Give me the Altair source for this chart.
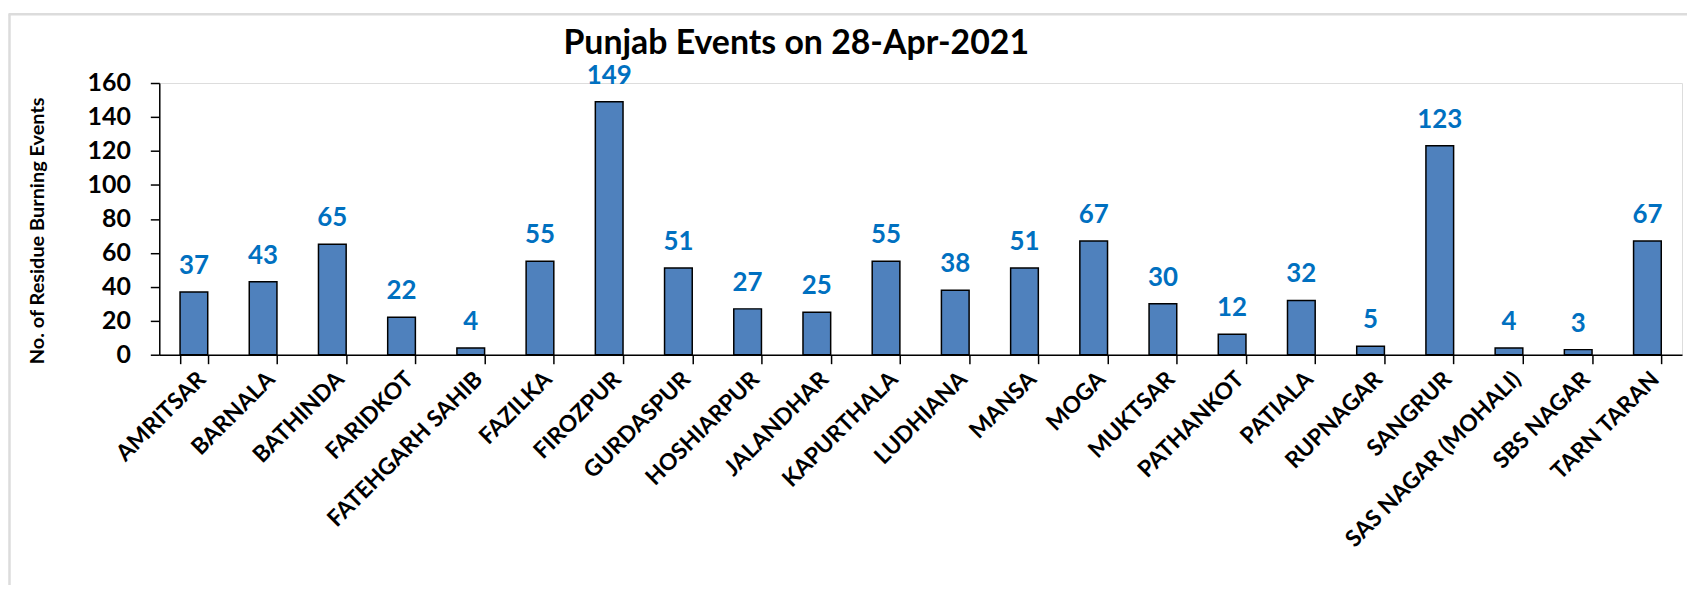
import altair as alt
import pandas as pd

districts = ["AMRITSAR", "BARNALA", "BATHINDA", "FARIDKOT", "FATEHGARH SAHIB", "FAZILKA",
             "FIROZPUR", "GURDASPUR", "HOSHIARPUR", "JALANDHAR", "KAPURTHALA", "LUDHIANA",
             "MANSA", "MOGA", "MUKTSAR", "PATHANKOT", "PATIALA", "RUPNAGAR", "SANGRUR",
             "SAS NAGAR (MOHALI)", "SBS NAGAR", "TARN TARAN"]
events = [37, 43, 65, 22, 4, 55, 149, 51, 27, 25, 55, 38, 51, 67, 30, 12, 32, 5, 123, 4, 3, 67]
y_ticks = [0, 20, 40, 60, 80, 100, 120, 140, 160]

df = pd.DataFrame({"district": districts, "events": events})

FONT = "Lato"

x_enc = alt.X("district:N", sort=districts,
              scale=alt.Scale(paddingInner=0.6, paddingOuter=0.3),
              axis=alt.Axis(title=None, labelAngle=-45, labelAlign="right", labelBaseline="top",
                            labelFont=FONT, labelFontSize=23, labelFontWeight="bold",
                            labelColor="black", labelPadding=4, labelLimit=400,
                            labelOverlap=False,
                            domainColor="black", domainWidth=1.5, tickColor="black",
                            tickWidth=1.5, tickSize=9, tickBand="extent", grid=False))

y_enc = alt.Y("events:Q", scale=alt.Scale(domain=[0, 160], nice=False),
              axis=alt.Axis(title="No. of Residue Burning Events", values=y_ticks,
                            titleFont=FONT, titleFontSize=20, titleFontWeight="bold",
                            titleColor="black", titleX=-122, titleY=148, titleAngle=-90,
                            titleAlign="center", titleBaseline="middle",
                            labelFont=FONT, labelFontSize=25, labelFontWeight="bold",
                            labelColor="black", labelPadding=20, labelOverlap=False,
                            domainColor="black", domainWidth=1.5, tickColor="black",
                            tickWidth=1.5, tickSize=9, grid=False))

bars = alt.Chart(df).mark_bar(color="#4F81BD", stroke="black", strokeWidth=1.5).encode(
    x=x_enc, y=y_enc)

labels = alt.Chart(df).mark_text(font=FONT, fontSize=26, fontWeight="bold", color="#0070C0",
                                 baseline="bottom", dy=-13).encode(
    x=x_enc, y=y_enc, text="events:Q")

# decorative light-grey chart frame (left and top edges)
frame_df = pd.DataFrame({"k": [0]})
frame_left = alt.Chart(frame_df).mark_rule(color="#DCDCDC", strokeWidth=2.5).encode(
    x=alt.value(-150.5), y=alt.value(-69), y2=alt.value(520))
frame_top = alt.Chart(frame_df).mark_rule(color="#DCDCDC", strokeWidth=2.5).encode(
    x=alt.value(-151.5), x2=alt.value(1540), y=alt.value(-69))

chart = (frame_left + frame_top + bars + labels).properties(
    width=1530, height=273,
    title=alt.TitleParams("Punjab Events on 28-Apr-2021", font=FONT, fontSize=34,
                          fontWeight="bold", color="black", anchor="middle", dx=-125,
                          offset=-48),
    autosize=alt.AutoSizeParams(type="none"),
    padding={"left": 152, "top": 74, "right": 5, "bottom": 230},
).configure_view(stroke=None).configure(background="white")

chart.save("out.html", embed_options={"renderer": "svg", "actions": False})
